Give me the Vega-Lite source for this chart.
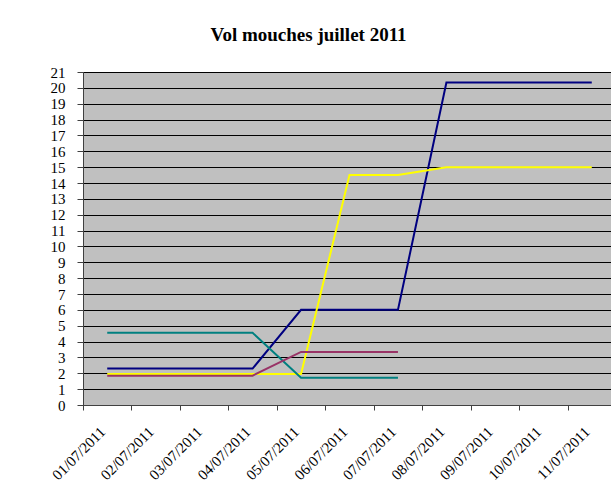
{
  "$schema": "https://vega.github.io/schema/vega-lite/v6.json",
  "width": 533,
  "height": 333,
  "autosize": {"type": "none"},
  "padding": {"left": 83, "top": 72, "right": 0, "bottom": 81},
  "background": "white",
  "title": {
    "text": "Vol mouches juillet 2011",
    "font": "Liberation Serif",
    "fontSize": 19,
    "fontWeight": "bold",
    "color": "black",
    "anchor": "middle",
    "dx": -41,
    "offset": 20
  },
  "config": {
    "font": "Liberation Serif",
    "view": {"fill": "#C0C0C0", "stroke": "#808080", "strokeWidth": 1},
    "axis": {
      "labelFont": "Liberation Serif",
      "labelColor": "black",
      "domainColor": "#404040",
      "tickColor": "#404040"
    }
  },
  "data": {
    "values": [
      {"date": "01/07/2011", "serie": "A", "value": 2.3},
      {"date": "02/07/2011", "serie": "A", "value": 2.3},
      {"date": "03/07/2011", "serie": "A", "value": 2.3},
      {"date": "04/07/2011", "serie": "A", "value": 2.3},
      {"date": "05/07/2011", "serie": "A", "value": 6},
      {"date": "06/07/2011", "serie": "A", "value": 6},
      {"date": "07/07/2011", "serie": "A", "value": 6},
      {"date": "08/07/2011", "serie": "A", "value": 20.33},
      {"date": "09/07/2011", "serie": "A", "value": 20.33},
      {"date": "10/07/2011", "serie": "A", "value": 20.33},
      {"date": "11/07/2011", "serie": "A", "value": 20.33},
      {"date": "01/07/2011", "serie": "B", "value": 1.95},
      {"date": "02/07/2011", "serie": "B", "value": 1.95},
      {"date": "03/07/2011", "serie": "B", "value": 1.95},
      {"date": "04/07/2011", "serie": "B", "value": 1.95},
      {"date": "05/07/2011", "serie": "B", "value": 1.95},
      {"date": "06/07/2011", "serie": "B", "value": 14.5},
      {"date": "07/07/2011", "serie": "B", "value": 14.5},
      {"date": "08/07/2011", "serie": "B", "value": 15},
      {"date": "09/07/2011", "serie": "B", "value": 15},
      {"date": "10/07/2011", "serie": "B", "value": 15},
      {"date": "11/07/2011", "serie": "B", "value": 15},
      {"date": "01/07/2011", "serie": "C", "value": 4.55},
      {"date": "02/07/2011", "serie": "C", "value": 4.55},
      {"date": "03/07/2011", "serie": "C", "value": 4.55},
      {"date": "04/07/2011", "serie": "C", "value": 4.55},
      {"date": "05/07/2011", "serie": "C", "value": 1.72},
      {"date": "06/07/2011", "serie": "C", "value": 1.72},
      {"date": "07/07/2011", "serie": "C", "value": 1.72},
      {"date": "01/07/2011", "serie": "D", "value": 1.85},
      {"date": "02/07/2011", "serie": "D", "value": 1.85},
      {"date": "03/07/2011", "serie": "D", "value": 1.85},
      {"date": "04/07/2011", "serie": "D", "value": 1.85},
      {"date": "05/07/2011", "serie": "D", "value": 3.35},
      {"date": "06/07/2011", "serie": "D", "value": 3.35},
      {"date": "07/07/2011", "serie": "D", "value": 3.35}
    ]
  },
  "mark": {"type": "line", "strokeWidth": 2},
  "encoding": {
    "x": {
      "field": "date",
      "type": "nominal",
      "sort": null,
      "scale": {"paddingInner": 0, "paddingOuter": 0},
      "axis": {
        "title": null,
        "tickBand": "extent",
        "labelAngle": -45,
        "labelAlign": "right",
        "labelBaseline": "middle",
        "labelFont": "Liberation Serif",
        "labelFontSize": 15,
        "labelPadding": 19,
        "labelOffset": -5,
        "labelOverlap": false,
        "tickSize": 5,
        "grid": false,
        "domainColor": "#404040"
      }
    },
    "y": {
      "field": "value",
      "type": "quantitative",
      "scale": {"domain": [0, 21], "nice": false},
      "axis": {
        "title": null,
        "values": [0,1,2,3,4,5,6,7,8,9,10,11,12,13,14,15,16,17,18,19,20,21],
        "grid": true,
        "gridColor": "black",
        "gridOpacity": 1,
        "gridWidth": 1,
        "labelFont": "Liberation Serif",
        "labelFontSize": 15,
        "labelPadding": 12,
        "labelOverlap": false,
        "tickSize": 6,
        "labelBaseline": "middle"
      }
    },
    "color": {
      "field": "serie",
      "type": "nominal",
      "scale": {"domain": ["A", "B", "C", "D"], "range": ["#000080", "#FFFF00", "#008080", "#993366"]},
      "legend": null
    },
    "order": {"field": "date"}
  }
}
